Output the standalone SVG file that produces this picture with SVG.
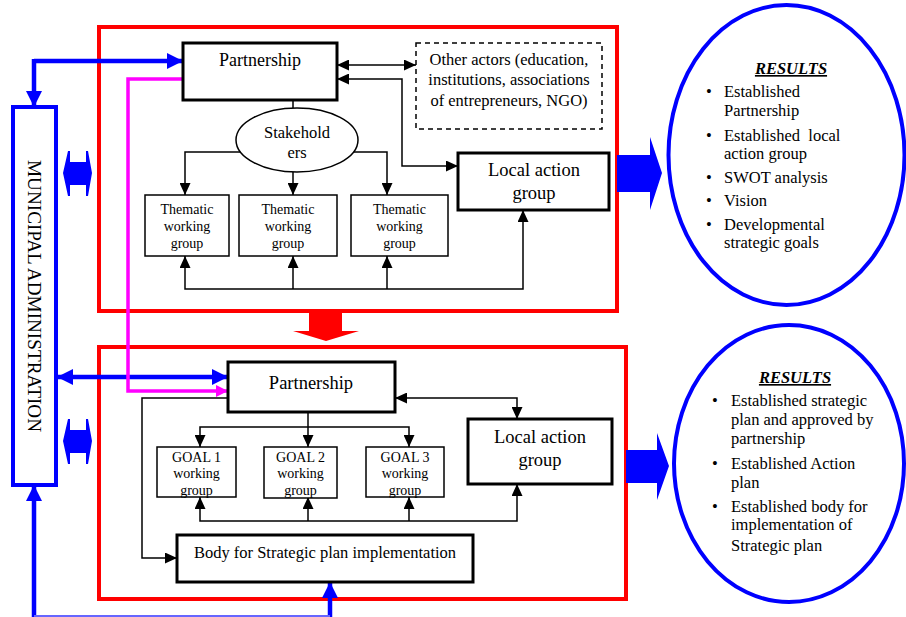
<svg xmlns="http://www.w3.org/2000/svg" width="906" height="617" viewBox="0 0 906 617" font-family="'Liberation Serif', 'Times New Roman', 'DejaVu Serif', serif">
<style>
text{font-family:'Liberation Serif','Times New Roman','DejaVu Serif',serif;fill:#000}
.box{fill:#fff;stroke:#000;stroke-width:3}
.thin{fill:#fff;stroke:#000;stroke-width:1.5}
.frame{fill:none;stroke:#ff0000;stroke-width:4}
.con{fill:none;stroke:#000;stroke-width:1.5}
.blue{fill:none;stroke:#0000ff;stroke-width:4.5}
.ell{fill:#fff;stroke:#0000ff;stroke-width:4}
.c{text-anchor:middle}
.r{font-size:16.5px}
</style>
<defs>
<marker id="ah" markerUnits="userSpaceOnUse" markerWidth="12" markerHeight="11" refX="12" refY="5.5" orient="auto-start-reverse"><path d="M0,0 L12,5.5 L0,11 z" fill="#000"/></marker>
<marker id="bh" markerUnits="userSpaceOnUse" markerWidth="16" markerHeight="16" refX="16" refY="8" orient="auto-start-reverse"><path d="M0,0 L16,8 L0,16 z" fill="#0000ff"/></marker>
<marker id="mh" markerUnits="userSpaceOnUse" markerWidth="12" markerHeight="12" refX="12" refY="6" orient="auto-start-reverse"><path d="M0,0 L12,6 L0,12 z" fill="#ff00ff"/></marker>
<polygon id="dbl" points="63,173 68,151 70,151 70,162 86,162 86,151 88,151 92,173 88,196 86,196 86,185 70,185 70,196 68,196" fill="#0000ff"/>
</defs>

<g id="frames">
<rect class="frame" x="99" y="27" width="518" height="284"/>
<rect class="frame" x="99" y="347" width="527" height="252"/>
</g>

<g id="connectors">
<path class="blue" d="M34,61 H183" marker-end="url(#bh)"/>
<path class="blue" d="M34,59 V107" marker-end="url(#bh)"/>
<path class="blue" d="M57,377 H228" marker-start="url(#bh)" marker-end="url(#bh)"/>
<path class="blue" d="M34,617 V485" marker-end="url(#bh)"/>
<path class="blue" d="M330,617 V582" marker-end="url(#bh)"/>
<path d="M34,616 H330" fill="none" stroke="#6666ff" stroke-width="2"/>
<use href="#dbl"/>
<use href="#dbl" transform="translate(0,268)"/>
<path d="M183,79 H128 V391 H228" fill="none" stroke="#ff00ff" stroke-width="3.5" marker-end="url(#mh)"/>
<polygon points="309,312 342,312 342,331 359,331 326,341 293,331 309,331" fill="#ff0000"/>
<polygon points="617,155 650,155 650,137 662,173 650,210 650,192 617,192" fill="#0000ff"/>
<polygon points="626,450 657,450 657,433 669,466 657,500 657,483 626,483" fill="#0000ff"/>
<path class="con" d="M337,65 H416" marker-start="url(#ah)" marker-end="url(#ah)"/>
<path class="con" d="M337,79 H402 V166 H458" marker-start="url(#ah)" marker-end="url(#ah)"/>
<path class="con" d="M293,100 V108"/>
<path class="con" d="M241,152 H185 V195" marker-end="url(#ah)"/>
<path class="con" d="M293,172 V195" marker-end="url(#ah)"/>
<path class="con" d="M353,152 H387 V195" marker-end="url(#ah)"/>
<path class="con" d="M185,256 V289 H523 V210" marker-start="url(#ah)" marker-end="url(#ah)"/>
<path class="con" d="M293,289 V256" marker-end="url(#ah)"/>
<path class="con" d="M387,289 V256" marker-end="url(#ah)"/>
<path class="con" d="M308,412 V447" marker-end="url(#ah)"/>
<path class="con" d="M200,447 V427 H409 V447" marker-start="url(#ah)" marker-end="url(#ah)"/>
<path class="con" d="M395,398 H517 V419" marker-start="url(#ah)" marker-end="url(#ah)"/>
<path class="con" d="M228,398 H142 V558 H177" marker-end="url(#ah)"/>
<path class="con" d="M200,497 V521 H517 V484" marker-start="url(#ah)" marker-end="url(#ah)"/>
<path class="con" d="M308,521 V497" marker-end="url(#ah)"/>
<path class="con" d="M409,521 V497" marker-end="url(#ah)"/>
</g>

<g id="municipal">
<rect x="13" y="107" width="43" height="378" fill="#fff" stroke="#0000ff" stroke-width="4"/>
<text x="34" y="296" class="c" font-size="18" dominant-baseline="central" textLength="272" lengthAdjust="spacingAndGlyphs" transform="rotate(90 34 296)">MUNICIPAL ADMINISTRATION</text>
</g>

<g id="partnership1">
<rect class="box" x="183" y="43" width="154" height="57"/>
<text x="260" y="66" class="c" font-size="18">Partnership</text>
</g>
<g id="otheractors">
<rect x="416" y="43" width="186" height="86" fill="#fff" stroke="#000" stroke-width="1.5" stroke-dasharray="5,4"/>
<text class="c" font-size="16.5"><tspan x="509" y="65">Other actors (education,</tspan><tspan x="509" y="85">institutions, associations</tspan><tspan x="509" y="106">of entrepreneurs, NGO)</tspan></text>
</g>
<g id="stakeholders">
<ellipse cx="297" cy="140" rx="61" ry="32" fill="#fff" stroke="#000" stroke-width="1.5"/>
<text class="c" font-size="16.5"><tspan x="297" y="138">Stakehold</tspan><tspan x="297" y="158">ers</tspan></text>
</g>
<g id="localaction1">
<rect class="box" x="458" y="153" width="151" height="57"/>
<text class="c" font-size="18.5"><tspan x="534" y="176">Local action</tspan><tspan x="534" y="199">group</tspan></text>
</g>
<g id="thematic1">
<rect class="thin" x="145" y="195" width="84" height="61"/>
<text class="c" font-size="14"><tspan x="187" y="214">Thematic</tspan><tspan x="187" y="231">working</tspan><tspan x="187" y="248">group</tspan></text>
</g>
<g id="thematic2">
<rect class="thin" x="239" y="195" width="98" height="61"/>
<text class="c" font-size="14"><tspan x="288" y="214">Thematic</tspan><tspan x="288" y="231">working</tspan><tspan x="288" y="248">group</tspan></text>
</g>
<g id="thematic3">
<rect class="thin" x="351" y="195" width="97" height="61"/>
<text class="c" font-size="14"><tspan x="399.5" y="214">Thematic</tspan><tspan x="399.5" y="231">working</tspan><tspan x="399.5" y="248">group</tspan></text>
</g>

<g id="partnership2">
<rect class="box" x="228" y="362" width="167" height="50"/>
<text x="311" y="389" class="c" font-size="18.5">Partnership</text>
</g>
<g id="goal1">
<rect class="thin" x="157" y="447" width="79" height="50"/>
<text class="c" font-size="14"><tspan x="196.5" y="462">GOAL 1</tspan><tspan x="196.5" y="478">working</tspan><tspan x="196.5" y="495">group</tspan></text>
</g>
<g id="goal2">
<rect class="thin" x="264" y="447" width="73" height="51"/>
<text class="c" font-size="14"><tspan x="300.5" y="462">GOAL 2</tspan><tspan x="300.5" y="478">working</tspan><tspan x="300.5" y="495">group</tspan></text>
</g>
<g id="goal3">
<rect class="thin" x="366" y="447" width="78" height="50"/>
<text class="c" font-size="14"><tspan x="405" y="462">GOAL 3</tspan><tspan x="405" y="478">working</tspan><tspan x="405" y="495">group</tspan></text>
</g>
<g id="localaction2">
<rect class="box" x="468" y="419" width="144" height="65"/>
<text class="c" font-size="18.5"><tspan x="540" y="443">Local action</tspan><tspan x="540" y="466">group</tspan></text>
</g>
<g id="body">
<rect class="box" x="177" y="535" width="296" height="47"/>
<text x="325" y="558" class="c" font-size="16.5">Body for Strategic plan implementation</text>
</g>

<g id="results1">
<ellipse class="ell" cx="786.5" cy="155" rx="118" ry="150"/>
<text x="791" y="74" class="c r" font-weight="bold" font-style="italic" text-decoration="underline">RESULTS</text>
<g class="r" text-anchor="middle">
<text x="709" y="97">•</text><text x="709" y="141">•</text><text x="709" y="183">•</text><text x="709" y="206">•</text><text x="709" y="230">•</text>
</g>
<text class="r"><tspan x="724" y="97">Established</tspan><tspan x="724" y="116">Partnership</tspan><tspan x="724" y="141">Established&#160; local</tspan><tspan x="724" y="159">action group</tspan><tspan x="724" y="183">SWOT analysis</tspan><tspan x="724" y="206">Vision</tspan><tspan x="724" y="230">Developmental</tspan><tspan x="724" y="248">strategic goals</tspan></text>
</g>

<g id="results2">
<ellipse class="ell" cx="789" cy="463.5" rx="115" ry="138.5"/>
<text x="795" y="383" class="c r" font-weight="bold" font-style="italic" text-decoration="underline">RESULTS</text>
<g class="r" text-anchor="middle">
<text x="715" y="406">•</text><text x="715" y="469">•</text><text x="715" y="512">•</text>
</g>
<text class="r"><tspan x="731" y="406">Established strategic</tspan><tspan x="731" y="425">plan and approved by</tspan><tspan x="731" y="444">partnership</tspan><tspan x="731" y="469">Established Action</tspan><tspan x="731" y="488">plan</tspan><tspan x="731" y="512">Established body for</tspan><tspan x="731" y="530">implementation of</tspan><tspan x="731" y="551">Strategic plan</tspan></text>
</g>
</svg>
